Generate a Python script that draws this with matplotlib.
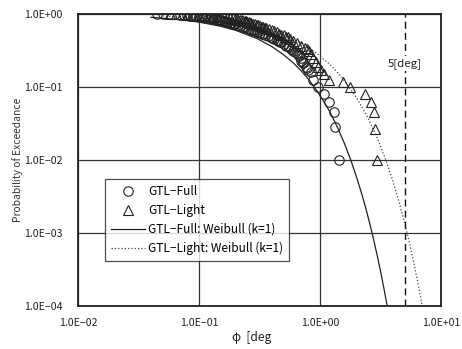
import matplotlib
matplotlib.use("Agg")
import matplotlib.pyplot as plt
from matplotlib.ticker import FixedLocator, FuncFormatter, NullLocator
from matplotlib.lines import Line2D

plt.rcParams['font.family'] = ['Noto Sans CJK JP', 'DejaVu Sans']

# GTL-Full empirical points
full_x = [0.045, 0.050, 0.070, 0.075, 0.080, 0.085, 0.090, 0.095, 0.100, 0.105,
          0.110, 0.115, 0.120, 0.125, 0.130, 0.135, 0.140, 0.145, 0.150, 0.155,
          0.160, 0.165, 0.170, 0.175, 0.180, 0.185, 0.190, 0.195, 0.200, 0.210,
          0.220, 0.230, 0.240, 0.250, 0.260, 0.270, 0.280, 0.290, 0.300, 0.310,
          0.320, 0.330, 0.340, 0.350, 0.370, 0.390, 0.400, 0.420, 0.440, 0.450,
          0.470, 0.480, 0.500, 0.520, 0.540, 0.550, 0.580, 0.600, 0.620, 0.640,
          0.660, 0.670, 0.690, 0.700, 0.720, 0.730, 0.760, 0.780, 0.800, 0.840,
          0.880, 0.960, 1.08, 1.19, 1.30, 1.33, 1.44]
full_p = [1.00, 1.00, 0.98, 0.97, 0.96, 0.95, 0.94, 0.93, 0.92, 0.91,
          0.90, 0.895, 0.88, 0.87, 0.86, 0.855, 0.84, 0.83, 0.82, 0.81,
          0.80, 0.79, 0.78, 0.77, 0.76, 0.75, 0.74, 0.73, 0.72, 0.71,
          0.69, 0.67, 0.66, 0.64, 0.63, 0.61, 0.60, 0.58, 0.57, 0.56,
          0.55, 0.54, 0.53, 0.52, 0.50, 0.48, 0.47, 0.45, 0.44, 0.43,
          0.42, 0.41, 0.39, 0.37, 0.36, 0.35, 0.33, 0.31, 0.30, 0.29,
          0.28, 0.27, 0.25, 0.23, 0.22, 0.21, 0.19, 0.18, 0.17, 0.16,
          0.125, 0.10, 0.08, 0.062, 0.045, 0.028, 0.010]

# GTL-Light empirical points
light_x = [0.058, 0.065, 0.072, 0.080, 0.090, 0.100, 0.110, 0.120, 0.130, 0.140,
           0.150, 0.160, 0.170, 0.180, 0.190, 0.200, 0.205, 0.210, 0.220, 0.225,
           0.230, 0.240, 0.245, 0.250, 0.260, 0.265, 0.270, 0.280, 0.290, 0.300,
           0.310, 0.320, 0.330, 0.340, 0.350, 0.360, 0.380, 0.400, 0.420, 0.440,
           0.460, 0.480, 0.500, 0.520, 0.540, 0.560, 0.600, 0.650, 0.700, 0.750,
           0.780, 0.810, 0.850, 0.880, 0.920, 0.960, 1.02, 1.08, 1.19, 1.55,
           1.77, 2.35, 2.64, 2.79, 2.85, 2.95]
light_p = [1.00, 1.00, 0.99, 0.98, 0.97, 0.96, 0.95, 0.94, 0.93, 0.92,
           0.91, 0.90, 0.89, 0.88, 0.87, 0.85, 0.845, 0.84, 0.83, 0.82,
           0.81, 0.80, 0.79, 0.78, 0.77, 0.76, 0.75, 0.73, 0.72, 0.71,
           0.70, 0.68, 0.67, 0.66, 0.65, 0.64, 0.62, 0.60, 0.58, 0.56,
           0.54, 0.52, 0.51, 0.49, 0.48, 0.46, 0.43, 0.40, 0.37, 0.34,
           0.33, 0.31, 0.28, 0.25, 0.22, 0.19, 0.17, 0.15, 0.125, 0.117,
           0.10, 0.08, 0.062, 0.045, 0.027, 0.010]

# Weibull (k=1) fitted curves
wfull_x = [0.04, 0.07, 0.1, 0.15, 0.2, 0.3, 0.4, 0.5, 0.6, 0.7, 0.8, 1.0, 1.2,
           1.4, 1.6, 1.8, 2.0, 2.2, 2.4, 2.6, 2.8, 3.0, 3.2, 3.4, 3.6]
wfull_p = [0.902, 0.836, 0.774, 0.681, 0.599, 0.463, 0.358, 0.277, 0.215, 0.166,
           0.129, 0.077, 0.0465, 0.0276, 0.0165, 0.0099, 0.0059, 0.00355, 0.00213,
           0.00127, 0.00076, 0.000455, 0.000273, 0.000163, 0.0000981]
wlight_x = [0.05, 0.1, 0.2, 0.3, 0.4, 0.5, 0.7, 0.9, 1.2, 1.5, 2.0, 2.5, 3.0,
            3.5, 4.0, 4.5, 5.0, 5.5, 6.0, 6.5, 7.0]
wlight_p = [0.936, 0.877, 0.769, 0.674, 0.591, 0.518, 0.398, 0.306, 0.206, 0.139,
            0.072, 0.0373, 0.0193, 0.0100, 0.00518, 0.00268, 0.00139, 0.00072,
            0.000373, 0.000193, 0.0001]

limit_deg = 5.0
x_ticks = [1e-2, 1e-1, 1e0, 1e1]
y_ticks = [1e-4, 1e-3, 1e-2, 1e-1, 1e0]

fig = plt.figure(figsize=(4.62, 3.49), dpi=100)
ax = fig.add_axes([78/462, 1-306/349, (441-78)/462, (306-14)/349])
ax.set_xscale('log')
ax.set_yscale('log')
ax.set_xlim(1e-2, 1e1)
ax.set_ylim(1e-4, 1e0)

def fmt(v, pos):
    s = '%.1E' % v
    return s.replace('-', '\u2212')

ax.xaxis.set_major_locator(FixedLocator(x_ticks))
ax.yaxis.set_major_locator(FixedLocator(y_ticks))
ax.xaxis.set_minor_locator(NullLocator())
ax.yaxis.set_minor_locator(NullLocator())
ax.xaxis.set_major_formatter(FuncFormatter(fmt))
ax.yaxis.set_major_formatter(FuncFormatter(fmt))
ax.tick_params(length=0, labelsize=7.6, colors='#222222')
ax.tick_params(axis='x', pad=9)
ax.tick_params(axis='y', pad=11)

ax.grid(True, which='major', color='#333333', linewidth=0.9)
ax.set_axisbelow(True)
for sp in ax.spines.values():
    sp.set_color('#222222')
    sp.set_linewidth(1.3)

ax.plot(wfull_x, wfull_p, '-', color='#222222', linewidth=0.9, zorder=3)
ax.plot(wlight_x, wlight_p, ':', color='#444444', linewidth=0.9, zorder=3)
ax.plot(full_x, full_p, 'o', mfc='none', mec='#222222', ms=6.8, mew=0.8, zorder=4)
ax.plot(light_x, light_p, '^', mfc='none', mec='#222222', ms=6.8, mew=0.8, zorder=4)

ax.axvline(limit_deg, color='#111111', linestyle=(0, (5, 3)), linewidth=1.0, zorder=3)
ax.text(limit_deg, 0.21, '5[deg]', ha='center', va='center', fontsize=8.2,
        color='#222222', zorder=5,
        bbox=dict(facecolor='white', edgecolor='none', pad=1.5))

handles = [
    Line2D([], [], marker='o', linestyle='none', mfc='none', mec='#222222', ms=6.8, mew=0.8),
    Line2D([], [], marker='^', linestyle='none', mfc='none', mec='#222222', ms=6.8, mew=0.8),
    Line2D([], [], linestyle='-', color='#222222', linewidth=0.9),
    Line2D([], [], linestyle=':', color='#444444', linewidth=0.9),
]
labels = ['GTL\u2212Full', 'GTL\u2212Light', 'GTL\u2212Full: Weibull (k=1)',
          'GTL\u2212Light: Weibull (k=1)']
leg = ax.legend(handles, labels, loc='upper left', bbox_to_anchor=(0.074, 0.435),
                fontsize=8.6, frameon=True, fancybox=False, edgecolor='#222222',
                handlelength=2.9, handletextpad=0.2, labelspacing=0.5,
                borderpad=0.5, borderaxespad=0)
leg.get_frame().set_linewidth(0.9)
leg.set_zorder(6)

fig.text(18/462, 1-160/349, 'Probability of Exceedance', rotation=90,
         ha='center', va='center', fontsize=7.4, color='#333333')
fig.text(252/462, 1-337/349, '\u03c6  [deg', ha='center', va='center', fontsize=8.6,
         color='#222222')

fig.savefig('out.png', dpi=100)
